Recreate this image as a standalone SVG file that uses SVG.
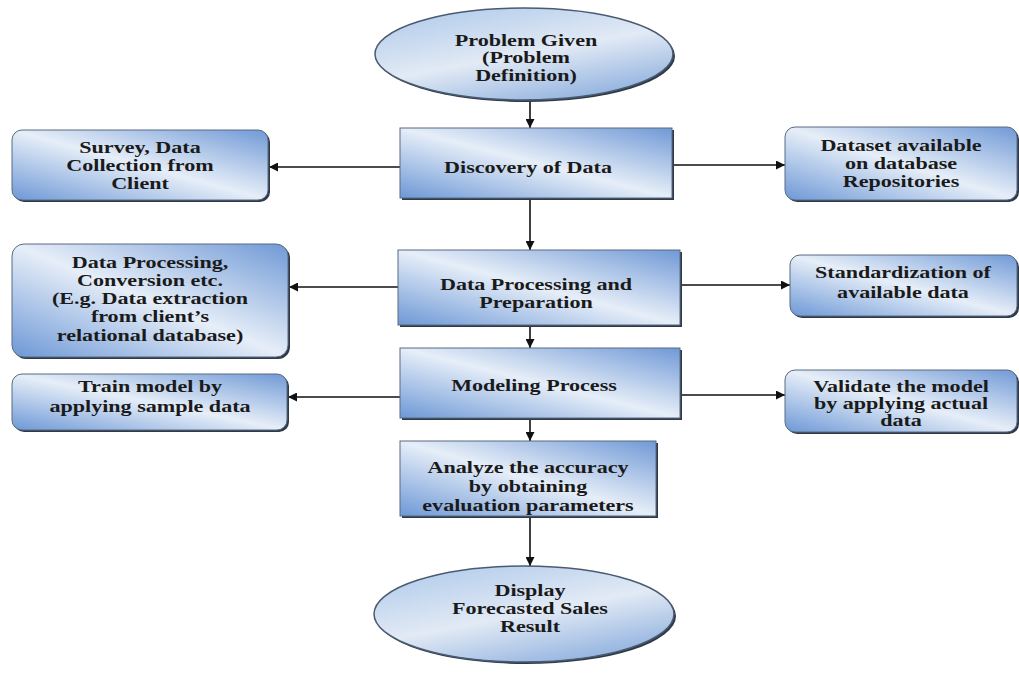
<svg xmlns="http://www.w3.org/2000/svg" width="1019" height="680" viewBox="0 0 1019 680">
<defs>
<linearGradient id="bg" x1="1" y1="0" x2="0" y2="1">
<stop offset="0" stop-color="#7099d6"/>
<stop offset="0.5" stop-color="#e6eef8"/>
<stop offset="1" stop-color="#6d98d6"/>
</linearGradient>
<linearGradient id="eg" x1="0.2" y1="0" x2="0.8" y2="1">
<stop offset="0" stop-color="#b3cceb"/>
<stop offset="0.5" stop-color="#e2eaf5"/>
<stop offset="1" stop-color="#8aaddd"/>
</linearGradient>
<marker id="ah" viewBox="0 0 10 10" refX="10" refY="5" markerWidth="9" markerHeight="9" markerUnits="userSpaceOnUse" orient="auto">
<path d="M0,0 L10,5 L0,10 z" fill="#111"/>
</marker>
</defs>
<style>
.sh{fill:#2e3a48}
.bx{fill:url(#bg);stroke:#5a6a80;stroke-width:1}
.el{fill:url(#eg);stroke:#4a5a70;stroke-width:1.5}
.t{font-family:"Liberation Serif","Times New Roman",serif;font-weight:bold;font-size:16px;fill:#1a1a1a;text-anchor:middle}
.c{stroke:#111;stroke-width:1.6;fill:none;marker-end:url(#ah)}
</style>
<rect width="1019" height="680" fill="#ffffff"/>

<g id="connectors">
<line class="c" x1="530" y1="100" x2="530" y2="128"/>
<line class="c" x1="400" y1="167" x2="269" y2="167"/>
<line class="c" x1="672" y1="165" x2="785" y2="165"/>
<line class="c" x1="530" y1="198" x2="530" y2="250"/>
<line class="c" x1="398" y1="287" x2="289" y2="287"/>
<line class="c" x1="680" y1="285" x2="790" y2="285"/>
<line class="c" x1="530" y1="327" x2="530" y2="348"/>
<line class="c" x1="400" y1="397" x2="288" y2="397"/>
<line class="c" x1="680" y1="395" x2="785" y2="395"/>
<line class="c" x1="530" y1="420" x2="530" y2="441"/>
<line class="c" x1="530" y1="518" x2="530" y2="566"/>
</g>

<g id="n-problem">
<ellipse class="sh" cx="526" cy="56" rx="149" ry="46"/>
<ellipse class="el" cx="524" cy="54" rx="149" ry="46"/>
<g transform="translate(526 0) scale(1.38 1)">
<text class="t" x="0" y="46">Problem Given</text>
<text class="t" x="0" y="63">(Problem</text>
<text class="t" x="0" y="81">Definition)</text>
</g>
</g>

<g id="n-discovery">
<rect class="sh" x="402" y="130" width="272" height="70"/>
<rect class="bx" x="400" y="128" width="272" height="70"/>
<g transform="translate(528 0) scale(1.38 1)">
<text class="t" x="0" y="173">Discovery of Data</text>
</g>
</g>

<g id="n-survey">
<rect class="sh" x="14" y="132" width="256" height="70" rx="10"/>
<rect class="bx" x="12" y="130" width="256" height="70" rx="10"/>
<g transform="translate(140 0) scale(1.38 1)">
<text class="t" x="0" y="153">Survey, Data</text>
<text class="t" x="0" y="171">Collection from</text>
<text class="t" x="0" y="189">Client</text>
</g>
</g>

<g id="n-dataset">
<rect class="sh" x="787" y="129" width="232" height="73" rx="10"/>
<rect class="bx" x="785" y="127" width="232" height="73" rx="10"/>
<g transform="translate(901 0) scale(1.38 1)">
<text class="t" x="0" y="151">Dataset available</text>
<text class="t" x="0" y="169">on database</text>
<text class="t" x="0" y="187">Repositories</text>
</g>
</g>

<g id="n-dataproc">
<rect class="sh" x="400" y="252" width="282" height="75"/>
<rect class="bx" x="398" y="250" width="282" height="75"/>
<g transform="translate(536 0) scale(1.38 1)">
<text class="t" x="0" y="290">Data Processing and</text>
<text class="t" x="0" y="308">Preparation</text>
</g>
</g>

<g id="n-conversion">
<rect class="sh" x="14" y="246" width="276" height="113" rx="12"/>
<rect class="bx" x="12" y="244" width="276" height="113" rx="12"/>
<g transform="translate(150 0) scale(1.38 1)">
<text class="t" x="0" y="268">Data Processing,</text>
<text class="t" x="0" y="286">Conversion etc.</text>
<text class="t" x="0" y="304">(E.g. Data extraction</text>
<text class="t" x="0" y="322">from client’s</text>
<text class="t" x="0" y="341">relational database)</text>
</g>
</g>

<g id="n-standard">
<rect class="sh" x="792" y="257" width="227" height="61" rx="10"/>
<rect class="bx" x="790" y="255" width="227" height="61" rx="10"/>
<g transform="translate(903 0) scale(1.38 1)">
<text class="t" x="0" y="278">Standardization of</text>
<text class="t" x="0" y="298">available data</text>
</g>
</g>

<g id="n-modeling">
<rect class="sh" x="402" y="350" width="280" height="70"/>
<rect class="bx" x="400" y="348" width="280" height="70"/>
<g transform="translate(534 0) scale(1.38 1)">
<text class="t" x="0" y="391">Modeling Process</text>
</g>
</g>

<g id="n-train">
<rect class="sh" x="14" y="376" width="275" height="56" rx="10"/>
<rect class="bx" x="12" y="374" width="275" height="56" rx="10"/>
<g transform="translate(150 0) scale(1.38 1)">
<text class="t" x="0" y="392">Train model by</text>
<text class="t" x="0" y="412">applying sample data</text>
</g>
</g>

<g id="n-validate">
<rect class="sh" x="787" y="372" width="232" height="62" rx="10"/>
<rect class="bx" x="785" y="370" width="232" height="62" rx="10"/>
<g transform="translate(901 0) scale(1.38 1)">
<text class="t" x="0" y="392">Validate the model</text>
<text class="t" x="0" y="409">by applying actual</text>
<text class="t" x="0" y="426">data</text>
</g>
</g>

<g id="n-analyze">
<rect class="sh" x="402" y="443" width="256" height="75"/>
<rect class="bx" x="400" y="441" width="256" height="75"/>
<g transform="translate(528 0) scale(1.38 1)">
<text class="t" x="0" y="473">Analyze the accuracy</text>
<text class="t" x="0" y="492">by obtaining</text>
<text class="t" x="0" y="511">evaluation parameters</text>
</g>
</g>

<g id="n-display">
<ellipse class="sh" cx="526" cy="616" rx="150" ry="48"/>
<ellipse class="el" cx="524" cy="614" rx="150" ry="48"/>
<g transform="translate(530 0) scale(1.38 1)">
<text class="t" x="0" y="596">Display</text>
<text class="t" x="0" y="614">Forecasted Sales</text>
<text class="t" x="0" y="632">Result</text>
</g>
</g>
</svg>
